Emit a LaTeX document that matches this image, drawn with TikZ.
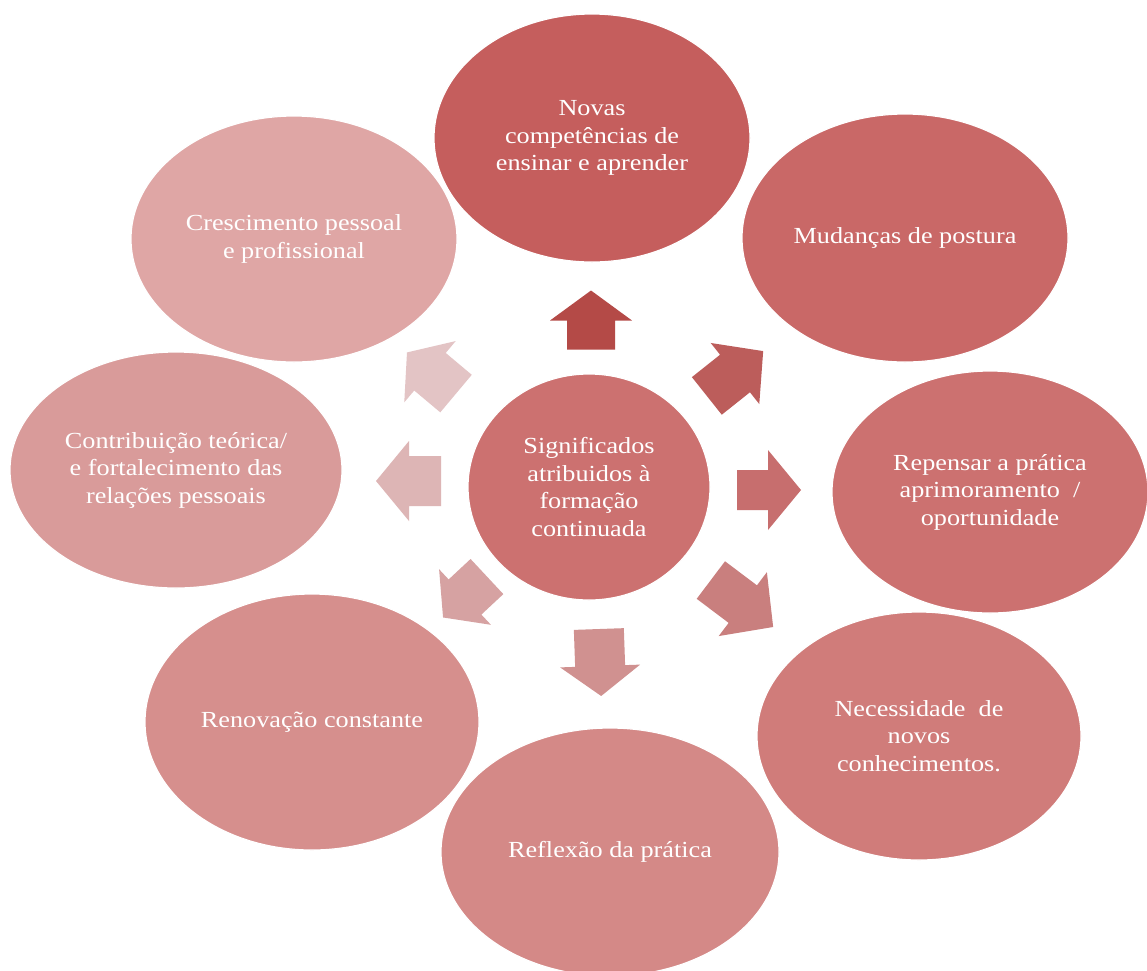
\documentclass[tikz,border=0pt]{standalone}
\usepackage{fontspec}
\setmainfont{Liberation Serif}[FakeStretch=1.14]
\usetikzlibrary{shapes.geometric}
\definecolor{e1}{HTML}{C55E5D}
\definecolor{e2}{HTML}{C96867}
\definecolor{e3}{HTML}{CC7170}
\definecolor{e4}{HTML}{D07C7A}
\definecolor{e5}{HTML}{D48987}
\definecolor{e6}{HTML}{D68F8D}
\definecolor{e7}{HTML}{D99B9A}
\definecolor{e8}{HTML}{DFA6A5}
\definecolor{ec}{HTML}{CC7170}
\definecolor{a1}{HTML}{B44A47}
\definecolor{a2}{HTML}{BC5D5B}
\definecolor{a3}{HTML}{C76E6E}
\definecolor{a4}{HTML}{C97F7E}
\definecolor{a5}{HTML}{D09190}
\definecolor{a6}{HTML}{D6A2A2}
\definecolor{a7}{HTML}{DDB5B5}
\definecolor{a8}{HTML}{E3C4C5}
\tikzset{
  bubble/.style={ellipse, draw=white, line width=1.2pt, inner sep=0pt, outer sep=0pt,
    text=white, align=center, font=\fontsize{23}{27.5}\selectfont},
  pics/barrow/.style n args={5}{code={
    \fill[#5] (-#1/2,-#3) -- (#1/2-#4,-#3) -- (#1/2-#4,-#2) -- (#1/2,0)
      -- (#1/2-#4,#2) -- (#1/2-#4,#3) -- (-#1/2,#3) -- cycle;}}
}
\begin{document}
\begin{tikzpicture}[x=1pt,y=-1pt]
\useasboundingbox[fill=white] (0,0) rectangle (1147,970);
\node[bubble, fill=e1, minimum width=316pt, minimum height=248pt] (e1) at (592,138)
  {Novas\\competências de\\ensinar e aprender};
\node[bubble, fill=e2, minimum width=326pt, minimum height=248pt] (e2) at (905,238)
  {Mudanças de postura};
\node[bubble, fill=e3, minimum width=316pt, minimum height=242pt] (e3) at (990,492)
  {Repensar a prática\\aprimoramento~ /\\oportunidade};
\node[bubble, fill=e4, minimum width=324pt, minimum height=248pt] (e4) at (919,736)
  {Necessidade~ de\\novos\\conhecimentos.};
\node[bubble, fill=e5, minimum width=338pt, minimum height=248pt] (e5) at (610,852)
  {Reflexão da prática};
\node[bubble, fill=e6, minimum width=334pt, minimum height=256pt] (e6) at (312,722)
  {Renovação constante};
\node[bubble, fill=e7, minimum width=332pt, minimum height=236pt] (e7) at (176,470)
  {Contribuição teórica/\\e fortalecimento das\\relações pessoais};
\node[bubble, fill=e8, minimum width=326pt, minimum height=246pt] (e8) at (294,239)
  {Crescimento pessoal\\e profissional};
\node[bubble, fill=ec, minimum width=242pt, minimum height=226pt] (c) at (589,487)
  {Significados\\atribuidos à\\formação\\continuada};
\pic (p1) [rotate=90]   at (591,320)   {barrow={59}{41}{24}{30}{a1}};
\pic (p2) [rotate=38.5] at (735,373.5) {barrow={72}{39}{24}{36}{a2}};
\pic (p3) [rotate=0]    at (769,490)   {barrow={64}{40}{20}{33}{a3}};
\pic (p4) [rotate=-37]  at (742,603.5) {barrow={78}{40}{23.5}{38}{a4}};
\pic (p5) [rotate=-88]  at (600,662.5) {barrow={67}{40}{25}{30}{a5}};
\pic (p6) [rotate=-137] at (465,597)   {barrow={60}{38}{24}{30}{a6}};
\pic (p7) [rotate=180]  at (408.5,481) {barrow={65}{40}{25}{33}{a7}};
\pic (p8) [rotate=140]  at (431.5,373) {barrow={64}{40}{24.5}{30}{a8}};
\end{tikzpicture}
\end{document}
